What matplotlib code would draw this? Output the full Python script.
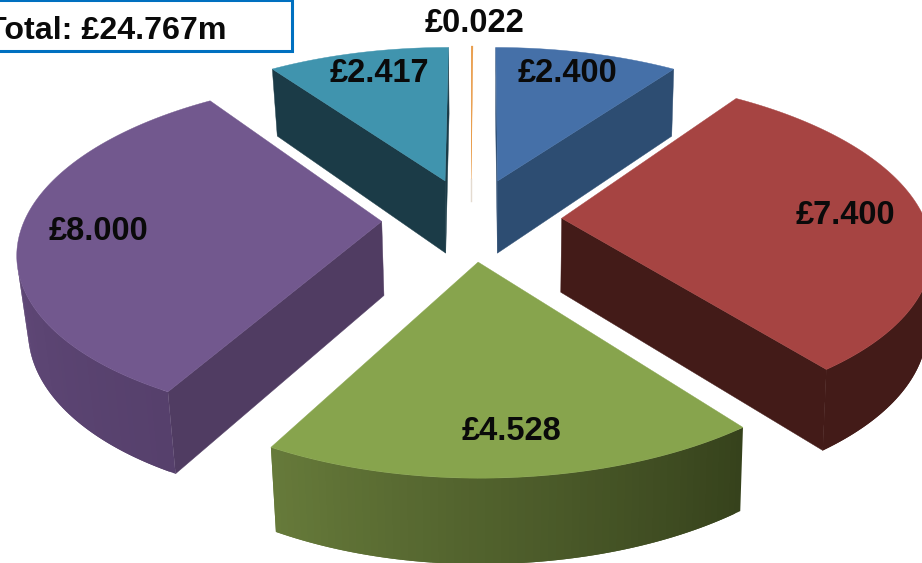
import matplotlib
matplotlib.use('Agg')
import matplotlib.pyplot as plt
from matplotlib.colors import to_rgb
from matplotlib.patches import Polygon, Rectangle
import numpy as np

# values clockwise from 12 o'clock, in GBP millions
values = [0.022, 2.400, 7.400, 4.528, 8.000, 2.417]
value_labels = ['£0.022', '£2.400', '£7.400', '£4.528', '£8.000', '£2.417']
total_label = 'Total: £24.767m'

top_colors = ['#E8963E', '#4570A8', '#A64442', '#87A44D', '#72588E', '#4094AE']
wall_colors = ['#B87430', '#2D4D72', '#431B18', '#87A44D', '#503C62', '#1B3B47']
# outer wall gradient, from the clockwise start of the slice to its end
rim_colors = [('#B87430', '#B87430'), ('#2D4D72', '#2D4D72'), ('#431B18', '#431B18'),
              ('#36421C', '#667A3A'), ('#56406C', '#6C5286'), ('#1B3B47', '#1B3B47')]
label_xy = [(474, 23), (567, 73), (845, 216), (511, 431), (98, 232), (379, 73)]
draw_order = [5, 1, 0, 4, 2, 3]

# projection of the pie plane onto the page, in pixels
CX, CY = 471, 219
RX, RY = 363, 166
LEFT_SQUEEZE = 0.983
PERSP = 0.16
EXPLODE = 0.25
DEPTH = 74
BOTTOM_X_LEFT = 0.975
BOTTOM_X_RIGHT = 0.99
BOTTOM_Y = 0.975


def project(x, y, bottom=False):
    s = 1 / (1 + PERSP * y)
    px = RX * x * s
    if x < 0:
        px *= LEFT_SQUEEZE
    if bottom:
        px *= BOTTOM_X_LEFT if x < 0 else BOTTOM_X_RIGHT
        return CX + px, CY - RY * y * s * BOTTOM_Y + DEPTH * s
    return CX + px, CY - RY * y * s


def slice_points(a0, a1, n, bottom=False):
    """Screen points of the apex and the rim of one exploded slice"""
    mid = (a0 + a1) / 2
    ox, oy = EXPLODE * np.sin(mid), EXPLODE * np.cos(mid)
    angles = np.linspace(a0, a1, n)
    apex = project(ox, oy, bottom)
    rim = [project(ox + np.sin(a), oy + np.cos(a), bottom) for a in angles]
    return apex, rim


def area(pts):
    x, y = np.array(pts).T
    return np.sum(x * np.roll(y, -1) - np.roll(x, -1) * y)


def draw_slice(ax, a0, a1, top, wall, rim_pair):
    n = max(int(np.degrees(a1 - a0)), 2) + 1
    apex, rim = slice_points(a0, a1, n)
    apex_b, rim_b = slice_points(a0, a1, n, bottom=True)

    # the tiny slice has no real wall, just a short fading line under the tip
    if a1 - a0 < 0.01:
        ax.plot([apex[0], apex[0]], [apex[1], apex[1] + 22], color='#E4DBD0', lw=1, zorder=1)
        ax.add_patch(Polygon([apex] + rim, fc=top, ec=top, lw=0.3))
        return

    # flat cut faces, only those facing the viewer
    start_wall = [apex, rim[0], rim_b[0], apex_b]
    end_wall = [apex, rim[-1], rim_b[-1], apex_b]
    if area(start_wall) < 0:
        ax.add_patch(Polygon(start_wall, fc=wall, ec=wall, lw=0.3))
    if area(end_wall) > 0:
        ax.add_patch(Polygon(end_wall, fc=wall, ec=wall, lw=0.3))

    # curved outer wall, each facet overlaps the next so no seams show
    c0, c1 = np.array(to_rgb(rim_pair[0])), np.array(to_rgb(rim_pair[1]))
    for i in range(n - 1):
        j = min(i + 2, n - 1)
        quad = [rim[i], rim[j], rim_b[j], rim_b[i]]
        if area([rim[i], rim[i + 1], rim_b[i + 1], rim_b[i]]) > 0:
            continue
        c = c0 + (c1 - c0) * i / (n - 2)
        ax.add_patch(Polygon(quad, fc=c, ec='none', lw=0))

    ax.add_patch(Polygon([apex] + rim, fc=top, ec=top, lw=0.3))


fig = plt.figure(figsize=(9.22, 5.63), dpi=100)
ax = fig.add_axes([0, 0, 1, 1])
ax.set_xlim(0, 922)
ax.set_ylim(563, 0)
ax.axis('off')

edges = np.concatenate([[0], np.cumsum(values)]) / np.sum(values) * 2 * np.pi
for i in draw_order:
    draw_slice(ax, edges[i], edges[i + 1], top_colors[i], wall_colors[i], rim_colors[i])

for (x, y), label in zip(label_xy, value_labels):
    ax.text(x, y, label, fontsize=23.5, fontweight='bold', family='Liberation Sans',
            color='#0A0A0A', ha='center', va='center')

# total box runs off the left edge of the page, the way the source was cropped
ax.add_patch(Rectangle((-10, 0), 302, 51, fc='white', ec='#0070C0', lw=2.2, clip_on=True))
ax.text(-12.5, 31, total_label, fontsize=23.2, fontweight='bold', family='Liberation Sans',
        color='#0A0A0A', ha='left', va='center')

fig.savefig('out.png', dpi=100, facecolor='white')
